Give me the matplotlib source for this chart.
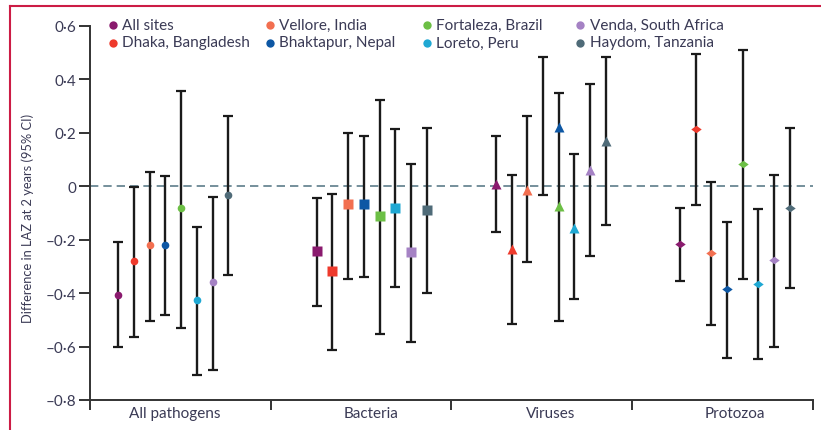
import matplotlib
matplotlib.use("Agg")
import matplotlib.pyplot as plt
from matplotlib.lines import Line2D
from matplotlib.path import Path
import numpy as np

# ---------------- data ----------------
sites = ["All sites", "Dhaka, Bangladesh", "Vellore, India", "Bhaktapur, Nepal",
         "Fortaleza, Brazil", "Loreto, Peru", "Venda, South Africa", "Haydom, Tanzania"]
site_colors = ["#8a1a6e", "#ee3a2c", "#f26f50", "#0d57a4",
               "#6cbf45", "#1fa8d3", "#a582c4", "#4f6b78"]
categories = ["All pathogens", "Bacteria", "Viruses", "Protozoa"]

all_est = [-0.406, -0.279, -0.219, -0.219, -0.083, -0.427, -0.358, -0.032]
all_lo = [-0.603, -0.565, -0.504, -0.482, -0.531, -0.708, -0.687, -0.334]
all_hi = [-0.210, -0.005, 0.052, 0.036, 0.355, -0.152, -0.041, 0.262]

bac_est = [-0.244, -0.317, -0.068, -0.068, -0.110, -0.081, -0.246, -0.090]
bac_lo = [-0.450, -0.614, -0.349, -0.339, -0.553, -0.378, -0.582, -0.400]
bac_hi = [-0.046, -0.030, 0.200, 0.186, 0.323, 0.212, 0.082, 0.218]

vir_est = [0.009, -0.236, -0.016, 0.220, -0.076, -0.155, 0.060, 0.167]
vir_lo = [-0.173, -0.516, -0.283, -0.035, -0.504, -0.421, -0.262, -0.146]
vir_hi = [0.186, 0.042, 0.263, 0.482, 0.350, 0.120, 0.383, 0.482]

pro_est = [-0.216, 0.214, -0.252, -0.386, 0.083, -0.365, -0.278, -0.081]
pro_lo = [-0.355, -0.070, -0.520, -0.642, -0.349, -0.648, -0.603, -0.381]
pro_hi = [-0.080, 0.494, 0.016, -0.135, 0.510, -0.085, 0.042, 0.218]

y_ticks = [-0.8, -0.6, -0.4, -0.2, 0, 0.2, 0.4, 0.6]
y_tick_labels = ["\u20130\u00b78", "\u20130\u00b76", "\u20130\u00b74", "\u20130\u00b72",
                 "0", "0\u00b72", "0\u00b74", "0\u00b76"]

# ---------------- layout / style ----------------
W, H = 821, 431
fig = plt.figure(figsize=(W / 100, H / 100), dpi=100)
ax = fig.add_axes([90 / W, 1 - 401 / H, (812.7 - 90) / W, (401 - 26.7) / H])

txt_color = "#3a3a55"
font = "Lato"

group_start = [0.157, 1.255, 2.247, 3.265]
step = 0.0869
label_pos = [0.468, 1.557, 2.551, 3.57]
# the published figure draws the Bhaktapur virus marker one slot to the right
marker_slot_shift = [[0] * 8, [0] * 8, [0, 0, 0, 1, 0, 0, 0, 0], [0] * 8]

diamond = Path([(-1, 0), (0, 0.72), (1, 0), (0, -0.72), (-1, 0)],
               [Path.MOVETO, Path.LINETO, Path.LINETO, Path.LINETO, Path.CLOSEPOLY])
markers = ["o", "s", "^", diamond]
msizes = [5.5, 7, 6.5, 7.5]

data = [(all_est, all_lo, all_hi), (bac_est, bac_lo, bac_hi),
        (vir_est, vir_lo, vir_hi), (pro_est, pro_lo, pro_hi)]

ax.axhline(0, color="#5d7d8a", lw=1.2, ls=(0, (5, 3)), zorder=1)

for g, (est, lo, hi) in enumerate(data):
    for i in range(len(sites)):
        x = group_start[g] + i * step
        mid = (lo[i] + hi[i]) / 2
        ax.errorbar([x], [mid], yerr=[[mid - lo[i]], [hi[i] - mid]],
                    fmt="none", ecolor="#1a1a1a", elinewidth=1.7, capsize=3.8,
                    capthick=1.6, zorder=2)
    for i in range(len(sites)):
        xm = group_start[g] + (i + marker_slot_shift[g][i]) * step
        ax.plot([xm], [est[i]], marker=markers[g], ms=msizes[g], color=site_colors[i],
                mec="none", ls="none", zorder=3)

ax.set_xlim(0, 4)
ax.set_ylim(-0.8, 0.6)
ax.set_yticks(y_ticks)
ax.set_yticklabels(y_tick_labels, fontsize=11, color=txt_color, family=font)
ax.set_xticks([0, 1, 2, 3, 4])
ax.set_xticklabels([])
ax.set_xticks(label_pos, minor=True)
ax.set_xticklabels(categories, minor=True, fontsize=11, color=txt_color, family=font)
ax.tick_params(axis="x", which="minor", length=0, pad=4)
ax.tick_params(axis="x", which="major", length=7, width=1.4, color="#333333", direction="out")
ax.tick_params(axis="y", length=8, width=1.4, color="#333333", direction="out", pad=2)
for s in ["top", "right"]:
    ax.spines[s].set_visible(False)
for s in ["left", "bottom"]:
    ax.spines[s].set_color("#333333")
    ax.spines[s].set_linewidth(1.4)

fig.text(28 / W, 1 - 218.5 / H, "Difference in LAZ at 2 years (95% CI)", rotation=90,
         fontsize=9.3, color=txt_color, family=font, ha="center", va="center")

# legend (manual, 4 columns x 2 rows)
col_marker_x = [113, 270, 426.7, 580]
col_text_x = [122, 279, 436, 590]
row_y = [26, 43.5]
for i, name in enumerate(sites):
    c, r = i // 2, i % 2
    fx, fy = col_marker_x[c] / W, 1 - row_y[r] / H
    fig.add_artist(Line2D([fx], [fy], marker="o", ms=6, color=site_colors[i],
                          mec="none", ls="none", transform=fig.transFigure))
    fig.text(col_text_x[c] / W, fy - 4 / H, name, fontsize=11, color=txt_color, family=font,
             va="baseline", ha="left")

# red frame (top and left edges visible)
frame_c = "#cc1c45"
fx0, fy0 = 10 / W, 1 - 7 / H
fig.add_artist(Line2D([fx0, fx0], [0, fy0], color=frame_c, lw=1.5, transform=fig.transFigure))
fig.add_artist(Line2D([fx0, 1], [fy0, fy0], color=frame_c, lw=1.5, transform=fig.transFigure))

fig.savefig("out.png", dpi=100)
